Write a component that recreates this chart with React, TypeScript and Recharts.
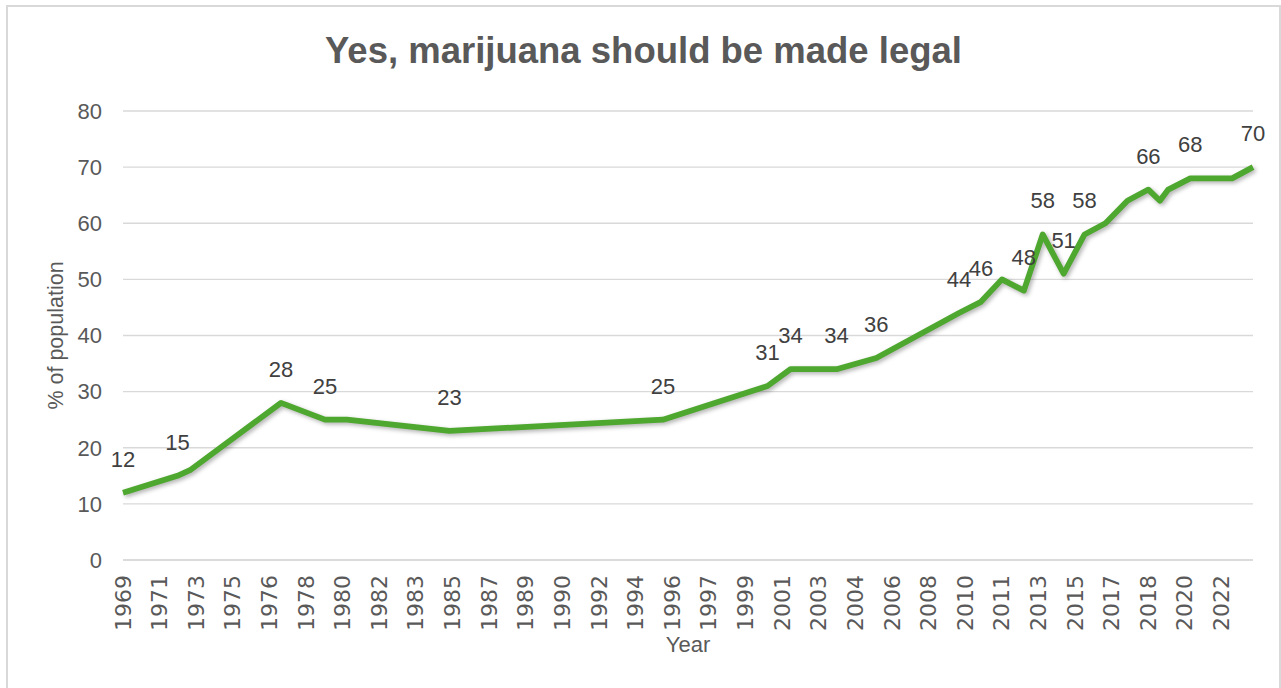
import { CartesianGrid, LabelList, Line, LineChart, XAxis, YAxis } from "recharts";

// poll dates (decimal year) and share saying "yes"
const YEARS = [
  1969.8, 1972.4, 1973.0, 1977.35, 1979.45, 1980.5, 1985.4, 1995.6, 2000.6,
  2001.7, 2003.9, 2005.8, 2009.75, 2010.8, 2011.8, 2012.85, 2013.75, 2014.75,
  2015.75, 2016.75, 2017.8, 2018.8, 2019.35, 2019.75, 2020.8, 2021.8, 2022.8,
  2023.8,
];
const VALUES = [
  12, 15, 16, 28, 25, 25, 23, 25, 31, 34, 34, 36, 44, 46, 50, 48, 58, 51, 58,
  60, 64, 66, 64, 66, 68, 68, 68, 70,
];
const SHOW_LABEL = [
  true, true, false, true, true, false, true, true, true, true, true, true,
  true, true, false, true, true, true, true, false, false, true, false, false,
  true, false, false, true,
];

const TICK_LABELS = [
  "1969", "1971", "1973", "1975", "1976", "1978", "1980", "1982", "1983",
  "1985", "1987", "1989", "1990", "1992", "1994", "1996", "1997", "1999",
  "2001", "2003", "2004", "2006", "2008", "2010", "2011", "2013", "2015",
  "2017", "2018", "2020", "2022",
];
const Y_TICKS = [0, 10, 20, 30, 40, 50, 60, 70, 80];

const X_START = 1969.8;
const X_END = 2023.8;
const TICK_STEP = 1.75;

const data = YEARS.map((year, i) => ({
  year,
  value: VALUES[i],
  label: SHOW_LABEL[i] ? VALUES[i] : null,
}));

const xTicks = TICK_LABELS.map((_, i) => X_START + i * TICK_STEP);

const GREEN = "#4EA72E";
const GRID = "#d9d9d9";
const TEXT = "#595959";
const SANS = "'Liberation Sans', Arial, sans-serif";

const XTick = (props: any) => {
  const { x, y, index } = props;
  return (
    <text
      x={x}
      y={y}
      transform={`rotate(-90, ${x}, ${y})`}
      textAnchor="end"
      dominantBaseline="central"
      fill={TEXT}
      fontSize={22}
      fontFamily="'DejaVu Sans', sans-serif"
    >
      {TICK_LABELS[index]}
    </text>
  );
};

const renderLabel = (props: any) => {
  const { value } = props;
  if (value === null || value === undefined) return null;
  const x = props.viewBox?.x ?? props.x;
  const y = props.viewBox?.y ?? props.y;
  return (
    <text
      x={x}
      y={y - 26}
      textAnchor="middle"
      fill="#404040"
      fontSize={22}
      fontFamily={SANS}
    >
      {value}
    </text>
  );
};

const App = () => {
  return (
    <div
      style={{
        position: "fixed",
        left: 0,
        top: 0,
        width: 1281,
        height: 688,
        overflow: "hidden",
        background: "#fff",
      }}
    >
      <style>
        {".recharts-line-curve{filter:drop-shadow(2px 2.5px 2px rgba(0,0,0,0.3));}"}
      </style>
      <div
        style={{
          position: "absolute",
          left: 6,
          top: 5,
          border: `2px solid ${GRID}`,
          width: 1271,
          height: 690,
        }}
      >
        <svg
          width={1271}
          height={100}
          style={{ position: "absolute", left: 0, top: 0, pointerEvents: "none" }}
        >
          <text
            x={635.5}
            y={56}
            textAnchor="middle"
            fill={TEXT}
            fontSize={36.5}
            fontWeight="bold"
            fontFamily={SANS}
          >
            Yes, marijuana should be made legal
          </text>
        </svg>
        <LineChart
          width={1271}
          height={690}
          data={data}
          margin={{ top: 104, right: 26, bottom: 0, left: 0 }}
        >
          <CartesianGrid vertical={false} stroke={GRID} strokeWidth={1.3} />
          <XAxis
            dataKey="year"
            type="number"
            scale="linear"
            domain={[X_START, X_END]}
            ticks={xTicks}
            interval={0}
            height={137}
            tick={<XTick />}
            tickLine={false}
            tickSize={0}
            tickMargin={15}
            axisLine={{ stroke: GRID, strokeWidth: 1.3 }}
            label={{
              value: "Year",
              position: "insideBottom",
              offset: 45,
              fill: TEXT,
              fontSize: 22,
              fontFamily: SANS,
            }}
          />
          <YAxis
            type="number"
            domain={[0, 80]}
            ticks={Y_TICKS}
            width={115}
            axisLine={false}
            tickLine={false}
            tickSize={0}
            tickMargin={21}
            tick={{ fill: TEXT, fontSize: 22, fontFamily: SANS }}
            label={{
              value: "% of population",
              angle: -90,
              position: "insideLeft",
              offset: 47,
              fill: TEXT,
              fontSize: 21.5,
              fontFamily: SANS,
              style: { textAnchor: "middle" },
            }}
          />
          <Line
            type="linear"
            dataKey="value"
            stroke={GREEN}
            strokeWidth={5.75}
            strokeLinejoin="round"
            dot={false}
            activeDot={false}
            isAnimationActive={false}
          >
            <LabelList dataKey="label" content={renderLabel} />
          </Line>
        </LineChart>
      </div>
    </div>
  );
};

export default App;
